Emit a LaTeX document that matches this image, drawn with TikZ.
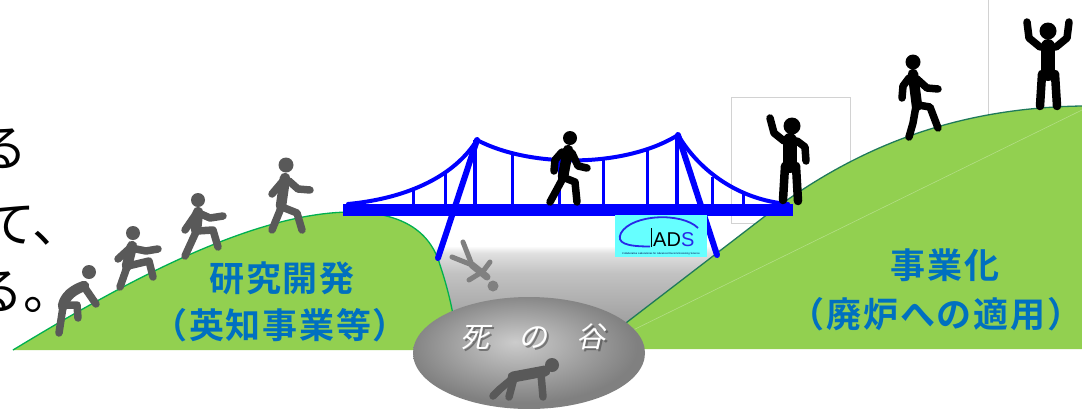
\documentclass[tikz,border=0pt]{standalone}
\usepackage{fontspec}
\newfontfamily\jp{Noto Sans CJK JP}
\newfontfamily\jpbold{Noto Sans CJK JP Bold}
\newfontfamily\jpslant{Noto Sans CJK JP}[FakeSlant=0.22]
\setsansfont{Liberation Sans}
\usetikzlibrary{shapes.geometric}

\definecolor{grass}{HTML}{92D050}
\definecolor{grassline}{HTML}{00B050}
\definecolor{ridge}{HTML}{1F7A5A}
\definecolor{bridgeblue}{HTML}{0000FF}
\definecolor{labelblue}{HTML}{0070C0}
\definecolor{climber}{HTML}{595959}
\definecolor{faller}{HTML}{808080}
\definecolor{logocyan}{HTML}{66FFFF}
\definecolor{logoblue}{HTML}{2828E8}
\definecolor{framegray}{HTML}{D2D2D2}

% valley floor: light at the rim, darker towards the bottom
\pgfdeclareverticalshading{gorge}{100bp}{rgb(0bp)=(0.56,0.56,0.56); rgb(25bp)=(0.56,0.56,0.56); rgb(62bp)=(0.76,0.76,0.76); rgb(72bp)=(0.88,0.88,0.88); rgb(75bp)=(0.98,0.98,0.98); rgb(100bp)=(0.98,0.98,0.98)}
% the pit itself
\pgfdeclareradialshading{pit}{\pgfpoint{-3bp}{5bp}}{rgb(0bp)=(0.80,0.80,0.80); rgb(25bp)=(0.50,0.50,0.50); rgb(50bp)=(0.50,0.50,0.50)}

\begin{document}
\begin{tikzpicture}[x=1pt,y=-1pt,
  limb/.style={line cap=round, line join=round, line width=7.5pt},
  trunk/.style={line cap=round, line join=round, line width=10.5pt},
  broad/.style={line cap=round, line join=round, line width=14pt},
  cable/.style={draw=bridgeblue, line width=4pt, line cap=round},
  hanger/.style={draw=bridgeblue, line width=3pt},
  pier/.style={draw=bridgeblue, line width=6pt},
  tower/.style={draw=bridgeblue, line width=4.5pt},
  bluelabel/.style={text=labelblue, inner sep=0pt, font=\jpbold\fontsize{35}{38}\selectfont\addfontfeatures{LetterSpace=5}},
  bigtext/.style={text=black, inner sep=0pt, font=\jp\fontsize{50}{54}\selectfont},
  frameline/.style={draw=framegray, line width=0.8pt}]

\useasboundingbox (0,0) rectangle (1082,408);
\clip (0,0) rectangle (1082,408);

% picture frames behind the scene
\draw[frameline] (731,97) rectangle (850,223);
\draw[frameline] (988,0) -- (988,118);

% valley behind the hills
\shade[shading=gorge] (430,247) rectangle (722,348);

% right hill
\fill[grass] (592,349) -- (760,220) .. controls (850,150) and (950,108) .. (1082,106) -- (1082,349) -- cycle;
\draw[grass!70!white, line width=0.6pt] (627,333) -- (1082,110);
\draw[ridge, line width=1.3pt] (592,349) -- (760,220) .. controls (850,150) and (950,108) .. (1082,106);

% left hill
\fill[grass] (13,350) .. controls (120,285) and (250,213) .. (350,212)
  .. controls (400,212) and (430,230) .. (440,265)
  .. controls (450,295) and (455,320) .. (458,350) -- cycle;
\draw[grassline, line width=1.3pt] (13,350) .. controls (120,285) and (250,213) .. (350,212)
  .. controls (400,212) and (430,230) .. (440,265)
  .. controls (450,295) and (455,320) .. (458,350);

% the pit
\shade[shading=pit] (529,353) ellipse [x radius=116, y radius=56];
\node[text=black!75, opacity=0.55, inner sep=0pt, font=\jpslant\fontsize{29}{31}\selectfont] (pitshadow) at (534.5,338.5) {死　の　谷};
\node[text=white, inner sep=0pt, font=\jpslant\fontsize{29}{31}\selectfont] (pit) at (533,337) {死　の　谷};

% bridge: cables
\draw[cable] (348,204) .. controls (410,198) and (455,175) .. (477,140);
\draw[cable] (477,140) .. controls (530,168) and (625,168) .. (678,135);
\draw[cable] (678,135) .. controls (700,172) and (740,200) .. (788,204);
% hangers
\foreach \hx/\hy in {413/188, 445/171, 512/153, 559/160, 603/158, 647/151, 712/177, 743/191}
  \draw[hanger] (\hx,\hy) -- (\hx,205);
% towers and piers
\draw[tower] (475,140) -- (475,205);
\draw[tower] (677,135) -- (677,205);
\draw[pier, line cap=round] (477,140) -- (438,258);
\draw[pier, line cap=round] (678,135) -- (717,255);
% deck
\fill[bridgeblue] (343,204) rectangle (793,216);

% CLADS logo
\fill[logocyan] (615,215) rectangle (707,257);
\draw[logoblue, line width=1.8pt] (698,228) .. controls (682,212) and (632,214) .. (621,233)
  .. controls (616,243) and (626,246.5) .. (650,246.5);
\draw[black, line width=1pt] (651.5,228) -- (651.5,246.5);
\node[anchor=base west, inner sep=0pt, font=\sffamily\fontsize{20}{20}\selectfont] (logoad) at (653,246) {AD};
\node[anchor=base west, inner sep=0pt, text=logoblue, font=\sffamily\fontsize{20}{20}\selectfont] (logos) at (681,246) {S};
\node[inner sep=0pt, text=black!70!blue, font=\sffamily\fontsize{2.6}{3}\selectfont] (logosub) at (661,253.5) {Collaborative Laboratories for Advanced Decommissioning Science};

% climbers on the left slope
\begin{scope}[climber]
  \fill (89,272) circle (7);
  \draw[trunk] (84,286) .. controls (73,290) and (65,296) .. (63,306);
  \draw[limb] (85,288) -- (96,304);
  \draw[limb] (64,305) -- (77,305) -- (78,318);
  \draw[limb] (63,307) -- (59,333);

  \fill (133,233) circle (7);
  \draw[trunk] (132,246) -- (127,266);
  \draw[limb] (130,248) -- (118,259);
  \draw[limb] (136,249) -- (146,251) -- (158,249);
  \draw[limb] (128,266) -- (149,261) -- (153,277);
  \draw[limb] (127,267) -- (120,287);

  \fill (198,200) circle (7);
  \draw[trunk] (198,212) -- (196,230);
  \draw[limb] (196,214) -- (185,230);
  \draw[limb] (201,214) -- (210,218) -- (223,216);
  \draw[limb] (197,231) -- (213,230) -- (218,247);
  \draw[limb] (196,232) -- (185,256);

  \fill (286,165) circle (7.5);
  \draw[trunk] (285,178) -- (281,206);
  \draw[limb] (283,181) -- (272,194);
  \draw[limb] (289,181) -- (298,189) -- (310,190);
  \draw[limb] (282,207) -- (297,213) -- (302,230);
  \draw[limb] (281,208) -- (272,230);
\end{scope}

% fallen into the valley
\begin{scope}[faller]
  \fill (493,286) circle (5.5);
  \draw[trunk, line width=7pt] (487,277) -- (472,265);
  \draw[limb, line width=5pt] (472,265) -- (463,242);
  \draw[limb, line width=5pt] (472,265) -- (452,257);
  \draw[limb, line width=5pt] (482,272) -- (469,280);
  \draw[limb, line width=5pt] (484,270) -- (490,262);
\end{scope}

% crouching in the pit
\begin{scope}[climber]
  \fill (552,365) circle (7);
  \draw[trunk, line width=11pt] (545,371) -- (513,377);
  \draw[limb] (541,374) -- (543,397);
  \draw[limb] (514,378) -- (509,397);
  \draw[limb] (512,379) -- (500,389) -- (493,396);
\end{scope}

% walkers on the bridge and on the right slope
\begin{scope}[black]
  \fill (570,138) circle (7);
  \draw[trunk] (568,150) -- (563,177);
  \draw[limb] (562,152) -- (555,160) -- (554,171);
  \draw[limb] (572,153) -- (578,166) -- (587,168);
  \draw[limb] (565,178) -- (575,182) -- (577,202);
  \draw[limb] (563,178) -- (556,191) -- (550,202);

  \fill (792,126) circle (8.5);
  \draw[broad] (790,140) -- (790,166);
  \draw[limb, line width=8.5pt] (785,166) -- (783,200);
  \draw[limb, line width=8.5pt] (796,166) -- (798,201);
  \draw[limb] (784,141) -- (774,133) -- (770,118);
  \draw[limb] (797,141) -- (805,147) -- (806,161);

  \fill (913,62) circle (7.5);
  \draw[trunk] (913,74) -- (917,106);
  \draw[limb] (909,78) -- (903,86) -- (902,98);
  \draw[limb] (917,79) -- (927,88) -- (938,89);
  \draw[limb] (918,105) -- (930,107) -- (938,128);
  \draw[limb] (916,106) -- (913,123) -- (909,137);

  \fill (1048,31) circle (8.5);
  \draw[broad] (1048,46) -- (1048,74);
  \draw[limb, line width=8.5pt] (1042,74) -- (1040,106);
  \draw[limb, line width=8.5pt] (1055,74) -- (1057,106);
  \draw[limb] (1040,47) -- (1029,38) -- (1027,22);
  \draw[limb] (1056,47) -- (1067,38) -- (1069,22);
\end{scope}

% captions on the hills
\node[bluelabel] (rd) at (282,278) {研究開発};
\node[bluelabel] (rdsub) at (280,325) {（英知事業等）};
\node[bluelabel] (biz) at (945,265) {事業化};
\node[bluelabel] (bizsub) at (935,314) {（廃炉への適用）\kern-1.75pt};

% text running in from the left edge
\node[bigtext] (lineone) at (3,149) {る};
\node[bigtext] (linetwo) at (34,226) {て、};
\node[bigtext] (linethree) at (24,292) {る。};
\end{tikzpicture}
\end{document}
